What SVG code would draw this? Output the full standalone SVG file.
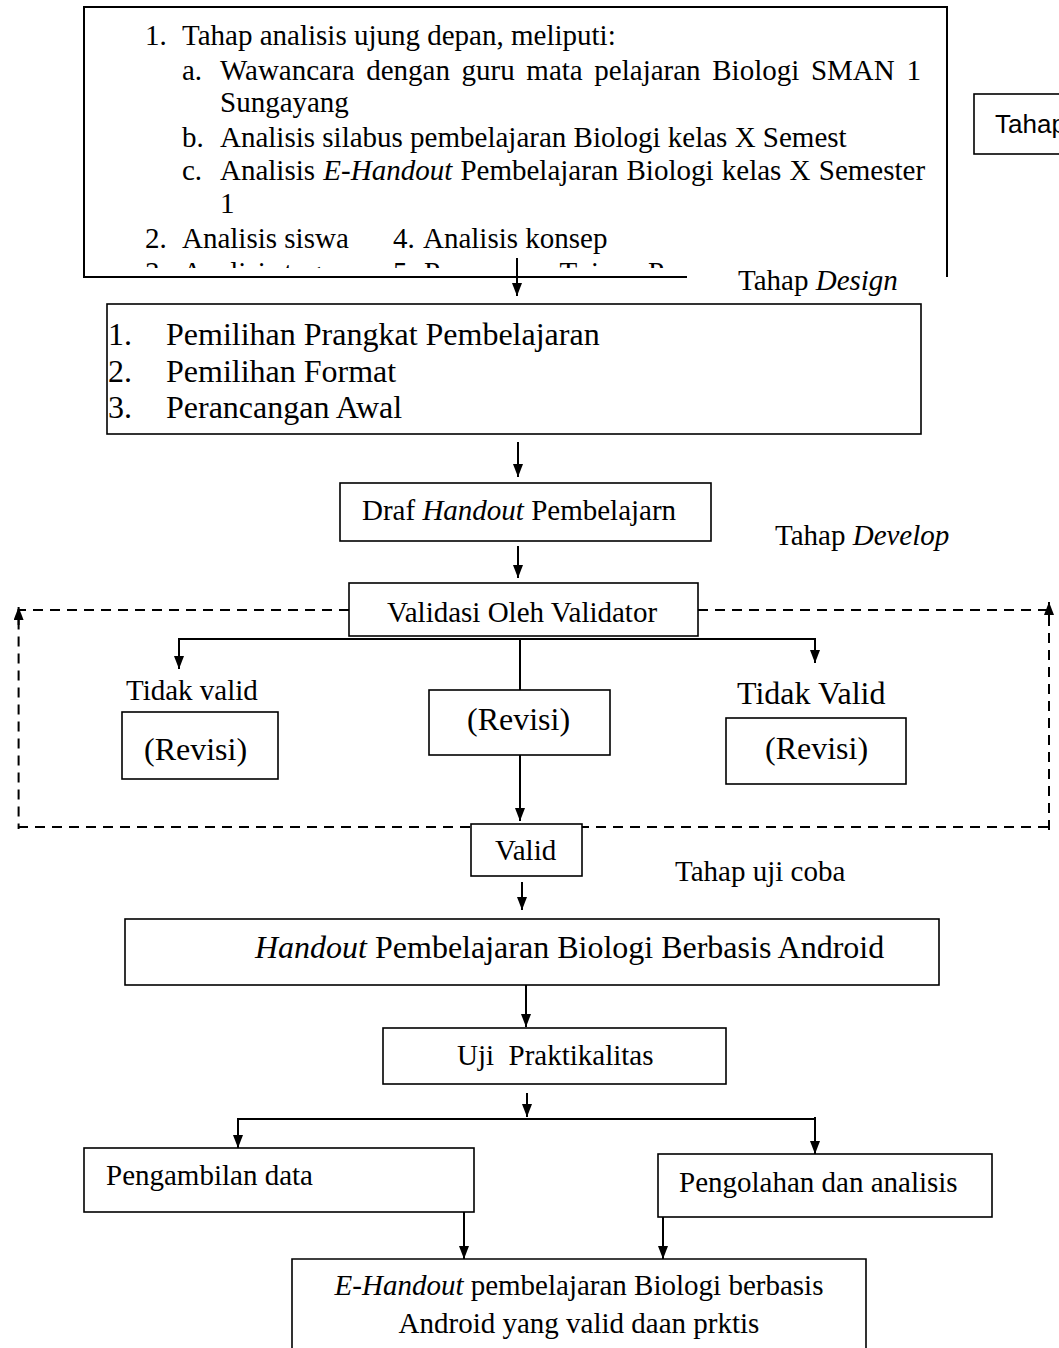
<svg xmlns="http://www.w3.org/2000/svg" width="1059" height="1348" viewBox="0 0 1059 1348">
<style>
.t{font-family:"Liberation Serif","Times New Roman",serif;font-size:29px;fill:#000}
.b{font-size:32px}
.i{font-style:italic}
.s{font-family:"Liberation Sans",Arial,sans-serif;font-size:26px;fill:#000}
.box{fill:#fff;stroke:#000;stroke-width:1.6}
.ln{stroke:#000;stroke-width:2;fill:none}
.ar{stroke:#000;stroke-width:2;fill:none;marker-end:url(#ah)}
.dash{stroke:#000;stroke-width:2;stroke-dasharray:10 7;fill:none}
</style>
<defs>
<marker id="ah" viewBox="0 0 13 10" refX="13" refY="5" markerWidth="13" markerHeight="10" markerUnits="userSpaceOnUse" orient="auto">
<path d="M0,0 L13,5 L0,10 z" fill="#000"/>
</marker>
<clipPath id="cl"><rect x="84" y="0" width="603" height="268"/></clipPath>
</defs>
<rect width="1059" height="1348" fill="#fff"/>

<g id="analisis">
<path d="M687,277 H84 V7 H947 V277" class="ln" stroke-width="1.6"/>
<text class="t" x="145" y="45">1.</text>
<text class="t" x="182" y="45">Tahap analisis ujung depan, meliputi:</text>
<text class="t" x="182" y="80">a.</text>
<text class="t" x="220" y="80" word-spacing="4.4">Wawancara dengan guru mata pelajaran Biologi SMAN 1</text>
<text class="t" x="220" y="112">Sungayang</text>
<text class="t" x="182" y="147">b.</text>
<text class="t" x="220" y="147">Analisis silabus pembelajaran Biologi kelas X Semest</text>
<text class="t" x="182" y="180">c.</text>
<text class="t" x="220" y="180" word-spacing="1">Analisis <tspan class="i">E-Handout</tspan> Pembelajaran Biologi kelas X Semester</text>
<text class="t" x="220" y="213">1</text>
<text class="t" x="145" y="248">2.</text>
<text class="t" x="182" y="248">Analisis siswa</text>
<text class="t" x="393" y="248">4.</text>
<text class="t" x="423" y="248">Analisis konsep</text>
<g clip-path="url(#cl)">
<text class="t" x="145" y="282">3.</text>
<text class="t" x="182" y="282">Analisis tugas</text>
<text class="t" x="393" y="282">5.</text>
<text class="t" x="424" y="282">Perumusan Tujuan Pembelajaran</text>
</g>
</g>

<g id="tahap-right">
<rect x="974" y="94" width="100" height="60" class="box"/>
<text class="s" x="995" y="133">Tahap</text>
</g>

<g id="label-design"><text class="t" x="738" y="290">Tahap <tspan class="i">Design</tspan></text></g>

<g id="design">
<rect x="107" y="304" width="814" height="130" class="box"/>
<text class="t b" x="108" y="345">1.</text>
<text class="t b" x="166" y="345">Pemilihan Prangkat Pembelajaran</text>
<text class="t b" x="108" y="382">2.</text>
<text class="t b" x="166" y="382">Pemilihan Format</text>
<text class="t b" x="108" y="418">3.</text>
<text class="t b" x="166" y="418">Perancangan Awal</text>
</g>

<g id="draf">
<rect x="340" y="483" width="371" height="58" class="box"/>
<text class="t" x="362" y="520">Draf <tspan class="i">Handout</tspan> Pembelajarn</text>
</g>

<g id="label-develop"><text class="t" x="775" y="545">Tahap <tspan class="i">Develop</tspan></text></g>

<g id="connectors">
<line x1="517" y1="258" x2="517" y2="296" class="ar"/>
<line x1="518" y1="442" x2="518" y2="477" class="ar"/>
<line x1="518" y1="546" x2="518" y2="578" class="ar"/>
<path d="M349,610 H18.6 V829" class="dash"/>
<path d="M698,610 H1049 V831" class="dash"/>
<line x1="18" y1="827" x2="1049" y2="827" class="dash"/>
<line x1="18.6" y1="625" x2="18.6" y2="607" class="ar"/>
<line x1="1049" y1="620" x2="1049" y2="602" class="ar"/>
<line x1="179" y1="639" x2="815" y2="639" class="ln"/>
<line x1="179" y1="638" x2="179" y2="669" class="ar"/>
<line x1="815" y1="638" x2="815" y2="663" class="ar"/>
<line x1="520" y1="639" x2="520" y2="690" class="ln"/>
<line x1="520" y1="755" x2="520" y2="821" class="ar"/>
<line x1="522" y1="882" x2="522" y2="910" class="ar"/>
<line x1="526" y1="985" x2="526" y2="1027" class="ar"/>
<line x1="527" y1="1093" x2="527" y2="1117" class="ar"/>
<line x1="238" y1="1119" x2="815" y2="1119" class="ln"/>
<line x1="238" y1="1118" x2="238" y2="1148" class="ar"/>
<line x1="815" y1="1117" x2="815" y2="1154" class="ar"/>
<line x1="464" y1="1212" x2="464" y2="1259" class="ar"/>
<line x1="663" y1="1217" x2="663" y2="1259" class="ar"/>
</g>

<g id="validasi">
<rect x="349" y="583" width="349" height="53" class="box"/>
<text class="t" x="387" y="622">Validasi Oleh Validator</text>
</g>

<g id="label-tidak-valid-1"><text class="t" x="126" y="700">Tidak valid</text></g>
<g id="revisi-left">
<rect x="122" y="712" width="156" height="67" class="box"/>
<text class="t b" x="144" y="760">(Revisi)</text>
</g>

<g id="revisi-center">
<rect x="429" y="690" width="181" height="65" class="box"/>
<text class="t b" x="467" y="730">(Revisi)</text>
</g>

<g id="label-tidak-valid-2"><text class="t b" x="737" y="704">Tidak Valid</text></g>
<g id="revisi-right">
<rect x="726" y="718" width="180" height="66" class="box"/>
<text class="t b" x="765" y="759">(Revisi)</text>
</g>

<g id="valid">
<rect x="471" y="824" width="111" height="52" class="box"/>
<text class="t" x="495" y="860">Valid</text>
</g>

<g id="label-uji"><text class="t" x="675" y="881">Tahap uji coba</text></g>

<g id="handout">
<rect x="125" y="919" width="814" height="66" class="box"/>
<text class="t b" x="255" y="958"><tspan class="i">Handout</tspan> Pembelajaran Biologi Berbasis Android</text>
</g>

<g id="uji">
<rect x="383" y="1028" width="343" height="56" class="box"/>
<text class="t" x="457" y="1065" style="white-space:pre">Uji  Praktikalitas</text>
</g>

<g id="pengambilan">
<rect x="84" y="1148" width="390" height="64" class="box"/>
<text class="t" x="106" y="1185">Pengambilan data</text>
</g>

<g id="pengolahan">
<rect x="658" y="1154" width="334" height="63" class="box"/>
<text class="t" x="679" y="1192">Pengolahan dan analisis</text>
</g>

<g id="final">
<path d="M292,1350 V1259 H866 V1350" class="box"/>
<text class="t" x="579" y="1295" text-anchor="middle"><tspan class="i">E-Handout</tspan> pembelajaran Biologi berbasis</text>
<text class="t" x="579" y="1333" text-anchor="middle">Android yang valid daan prktis</text>
</g>
</svg>
